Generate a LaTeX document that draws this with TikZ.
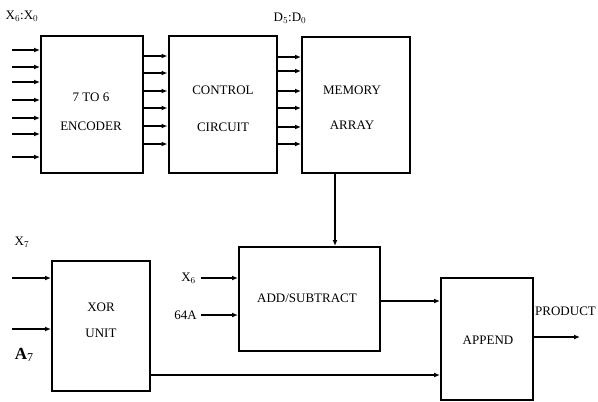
\documentclass[tikz,border=0pt]{standalone}
\usepackage{fontspec}
\setmainfont{Liberation Serif}
\usetikzlibrary{arrows.meta}
\begin{document}
\begin{tikzpicture}[x=1pt,y=-1pt,
  blk/.style={draw,line width=2pt,inner sep=0pt},
  lbl/.style={font=\fontsize{13}{15}\selectfont,inner sep=0pt,align=center},
  arr/.style={line width=1.5pt,-{Latex[length=6pt,width=5pt]}}]
\useasboundingbox (0,0) rectangle (598,402);
% boxes
\node[blk,minimum width=102pt,minimum height=137pt] (enc) at (92,104.5) {};
\node[blk,minimum width=108pt,minimum height=137pt] (ctl) at (222.5,104.5) {};
\node[blk,minimum width=108pt,minimum height=136pt] (mem) at (356,104.5) {};
\node[blk,minimum width=98pt,minimum height=130pt] (xor) at (101,326) {};
\node[blk,minimum width=141pt,minimum height=104pt] (add) at (309.5,299) {};
\node[blk,minimum width=92pt,minimum height=122pt] (app) at (487,339) {};
% texts
\node[lbl] (t1) at (91,97) {7 TO 6};
\node[lbl] (t2) at (91,126) {ENCODER};
\node[lbl] (t3) at (223,90) {CONTROL};
\node[lbl] (t4) at (223,127) {CIRCUIT};
\node[lbl] (t5) at (352,90) {MEMORY};
\node[lbl] (t6) at (352,125) {ARRAY};
\node[lbl] (t7) at (101,307) {XOR};
\node[lbl] (t8) at (101,333) {UNIT};
\node[lbl] (t9) at (307,298) {ADD/SUBTRACT};
\node[lbl] (t10) at (488,340) {APPEND};
\node[lbl] (lx) at (22,16) {X$_6$:X$_0$};
\node[lbl] (ld) at (290,18) {D$_5$:D$_0$};
\node[lbl] (lx7) at (22,242) {X$_7$};
\node[inner sep=0pt] (la7) at (24,355) {\fontsize{17}{19}\selectfont\textbf{A}\raisebox{-2pt}{\fontsize{12}{13}\selectfont 7}};
\node[lbl,anchor=east] (lx6) at (196,278) {X$_6$};
\node[lbl,anchor=east] (l64) at (197,315) {64A};
\node[lbl,anchor=west] (lp) at (535,311) {PRODUCT};
% encoder inputs
\foreach \y [count=\i] in {50,67,82,100,118,134,157} {
  \coordinate (ei\i) at (12,\y);
  \draw[arr] (ei\i) -- (ei\i -| enc.west);
}
% encoder -> control
\foreach \y [count=\i] in {56,73,91,108,126,144} {
  \coordinate (ec\i) at (enc.east |- 0,\y);
  \draw[arr] (ec\i) -- (ec\i -| ctl.west);
}
% control -> memory
\foreach \y [count=\i] in {57,71,91,108,127,144} {
  \coordinate (cm\i) at (ctl.east |- 0,\y);
  \draw[arr] (cm\i) -- (cm\i -| mem.west);
}
% memory -> add
\coordinate (mo) at (335,0);
\draw[arr] (mo |- mem.south) -- (mo |- add.north);
% xor inputs
\coordinate (xi1) at (12,278);
\coordinate (xi2) at (12,329);
\draw[arr] (xi1) -- (xi1 -| xor.west);
\draw[arr] (xi2) -- (xi2 -| xor.west);
% add inputs
\coordinate (ai1) at (201,278);
\coordinate (ai2) at (201,315);
\draw[arr] (ai1) -- (ai1 -| add.west);
\draw[arr] (ai2) -- (ai2 -| add.west);
% add -> append
\coordinate (ao) at (add.east |- 0,301);
\draw[arr] (ao) -- (ao -| app.west);
% xor -> append
\coordinate (xo) at (xor.east |- 0,375);
\draw[arr] (xo) -- (xo -| app.west);
% product
\coordinate (po) at (app.east |- 0,337);
\coordinate (pe) at (580,337);
\draw[arr] (po) -- (pe);
\end{tikzpicture}
\end{document}
